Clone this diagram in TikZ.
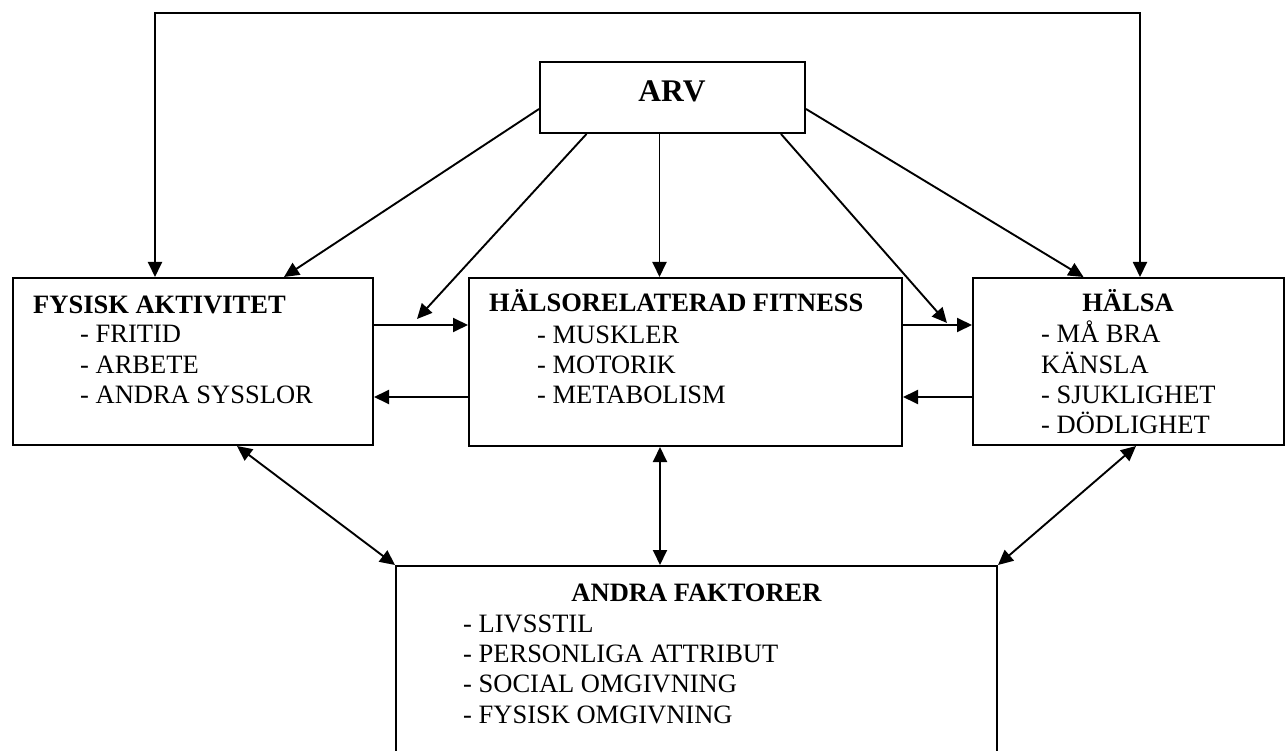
\documentclass[tikz,border=0pt]{standalone}
\usepackage{fontspec}
\setmainfont{Liberation Serif}
\usetikzlibrary{arrows.meta,calc}
\begin{document}
\begin{tikzpicture}[x=1pt,y=1pt,
 box/.style={draw,line width=2pt,rectangle,anchor=north west,inner sep=0pt},
 tip/.style={},
 arr/.style={line width=1.9pt,-{Triangle[length=15pt,width=14pt]}},
 darr/.style={line width=1.9pt,{Triangle[length=15pt,width=14pt]}-{Triangle[length=15pt,width=14pt]}},
 txt/.style={inner sep=0pt,anchor=base west,font=\fontsize{26.5}{30}\selectfont},
 ttl/.style={inner sep=0pt,anchor=base west,font=\fontsize{26.5}{30}\selectfont\bfseries}]
\useasboundingbox (0,0) rectangle (1285,-751);
\clip (0,0) rectangle (1285,-751);

% boxes
\node[box,minimum width=265pt,minimum height=71pt] (arv) at (539,-61) {};
\node[box,minimum width=360pt,minimum height=167pt] (fa) at (12,-277) {};
\node[box,minimum width=433pt,minimum height=168pt] (mid) at (468,-277) {};
\node[box,minimum width=311pt,minimum height=167pt] (hal) at (972,-277) {};
\node[box,minimum width=601pt,minimum height=200pt] (and) at (395,-565) {};

% texts
\node[inner sep=0pt,anchor=base,font=\fontsize{31.5}{34}\selectfont\bfseries] (arvt) at (672,-102) {ARV};

\node[ttl] (fat) at (33,-313) {FYSISK AKTIVITET};
\node[txt] (fa1) at (80,-342) {- FRITID};
\node[txt] (fa2) at (80,-373) {- ARBETE};
\node[txt] (fa3) at (80,-403) {- ANDRA SYSSLOR};

\node[ttl] (midt) at (489,-312) {HÄLSORELATERAD FITNESS};
\node[txt] (mid1) at (537,-343) {- MUSKLER};
\node[txt] (mid2) at (537,-373) {- MOTORIK};
\node[txt] (mid3) at (537,-403) {- METABOLISM};

\node[ttl,anchor=base] (halt) at (1128,-312) {HÄLSA};
\node[txt] (hal1) at (1041,-342) {- MÅ BRA};
\node[txt] (hal2) at (1041,-373) {KÄNSLA};
\node[txt] (hal3) at (1041,-403) {- SJUKLIGHET};
\node[txt] (hal4) at (1041,-433) {- DÖDLIGHET};

\node[ttl,anchor=base] (andt) at (696.5,-601) {ANDRA FAKTORER};
\node[txt] (and1) at (463,-632) {- LIVSSTIL};
\node[txt] (and2) at (463,-662) {- PERSONLIGA ATTRIBUT};
\node[txt] (and3) at (463,-692) {- SOCIAL OMGIVNING};
\node[txt] (and4) at (463,-723) {- FYSISK OMGIVNING};

% free ends
\coordinate (p2) at (417,-319);
\coordinate (p4) at (947,-323);

% arrows from ARV
\draw[arr] ($(arv.north west)+(0,-48)$) -- ($(fa.north west)+(272,0)$);
\draw[arr] ($(arv.south west)+(47.5,0)$) -- (p2);
\draw[arr] ($(arv.south west)+(120.5,0)$) -- ($(mid.north west)+(191.5,0)$);
\draw[arr] ($(arv.south west)+(242,0)$) -- (p4);
\draw[arr] ($(arv.north east)+(0,-48)$) -- ($(hal.north west)+(111.5,0)$);

% top loop
\draw[darr] ($(fa.north west)+(143,0)$) -- ++(0,264) -| ($(hal.north west)+(168,0)$);

% horizontal arrows
\draw[arr] ($(fa.north east)+(0,-48)$) -- ($(mid.north west)+(0,-48)$);
\draw[arr] ($(mid.north west)+(0,-120)$) -- ($(fa.north east)+(0,-120)$);
\draw[arr] ($(mid.north east)+(0,-48)$) -- ($(hal.north west)+(0,-48)$);
\draw[arr] ($(hal.north west)+(0,-120)$) -- ($(mid.north east)+(0,-120)$);

% double arrows to ANDRA FAKTORER
\draw[darr] ($(fa.south west)+(225,0)$) -- (and.north west);
\draw[darr] ($(mid.south west)+(192,0)$) -- ($(and.north west)+(265,0)$);
\draw[darr] ($(hal.south west)+(164,0)$) -- (and.north east);
\end{tikzpicture}
\end{document}
